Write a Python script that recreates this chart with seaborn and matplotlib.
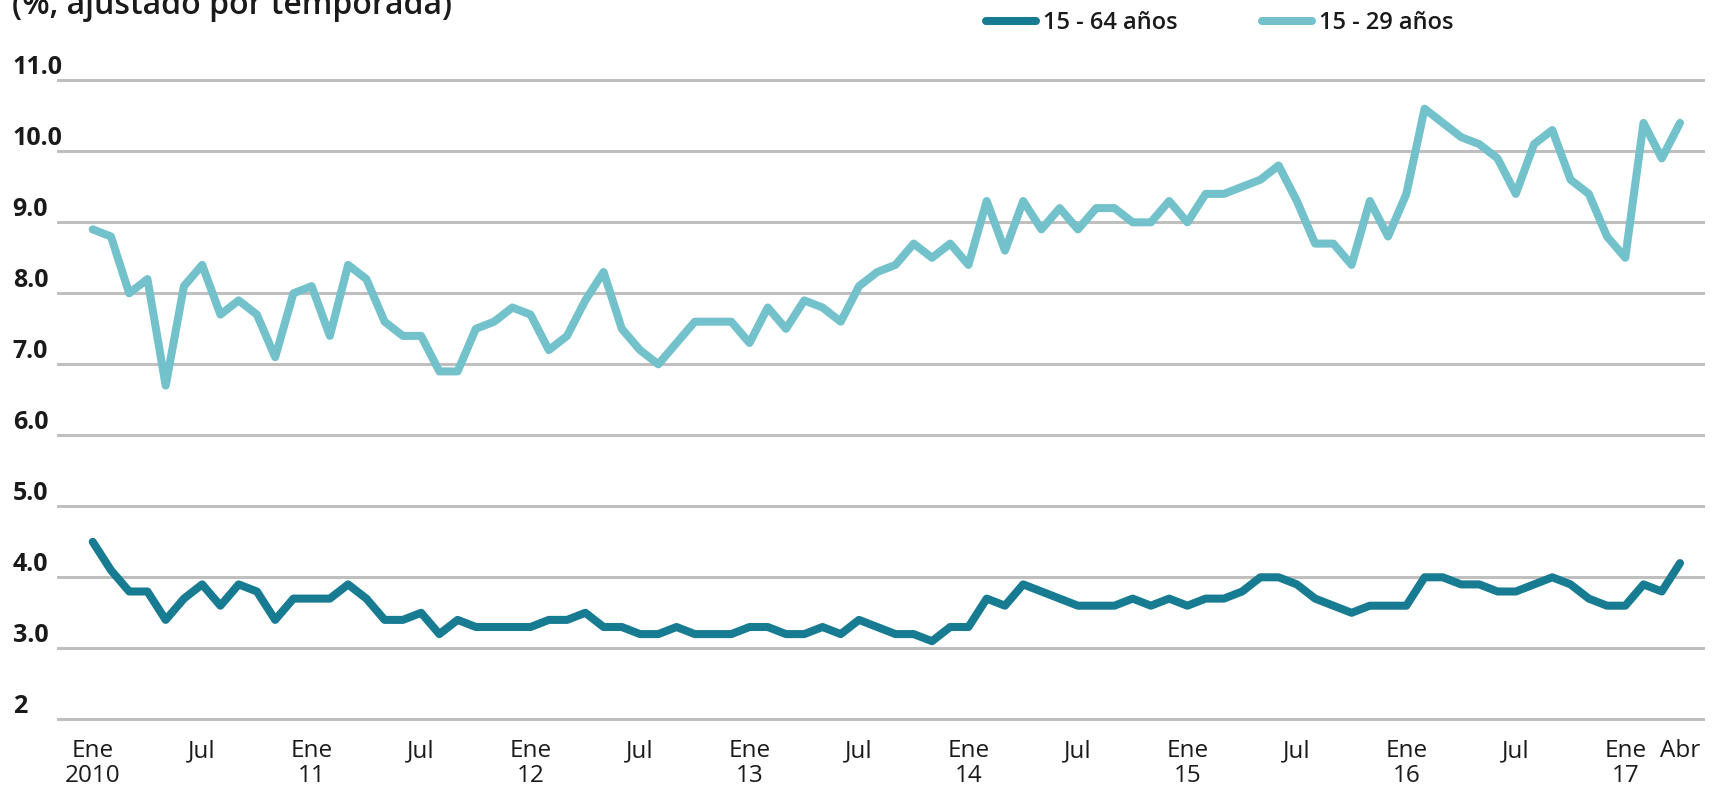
import numpy as np
import pandas as pd
import matplotlib.pyplot as plt
import seaborn as sns
from matplotlib.lines import Line2D
from matplotlib.transforms import ScaledTranslation

# tasa de desempleo mensual, Ene 2010 - Abr 2017
rate_15_64 = [4.5, 4.1, 3.8, 3.8, 3.4, 3.7, 3.9, 3.6, 3.9, 3.8, 3.4, 3.7,
              3.7, 3.7, 3.9, 3.7, 3.4, 3.4, 3.5, 3.2, 3.4, 3.3, 3.3, 3.3,
              3.3, 3.4, 3.4, 3.5, 3.3, 3.3, 3.2, 3.2, 3.3, 3.2, 3.2, 3.2,
              3.3, 3.3, 3.2, 3.2, 3.3, 3.2, 3.4, 3.3, 3.2, 3.2, 3.1, 3.3,
              3.3, 3.7, 3.6, 3.9, 3.8, 3.7, 3.6, 3.6, 3.6, 3.7, 3.6, 3.7,
              3.6, 3.7, 3.7, 3.8, 4.0, 4.0, 3.9, 3.7, 3.6, 3.5, 3.6, 3.6,
              3.6, 4.0, 4.0, 3.9, 3.9, 3.8, 3.8, 3.9, 4.0, 3.9, 3.7, 3.6,
              3.6, 3.9, 3.8, 4.2]
rate_15_29 = [8.9, 8.8, 8.0, 8.2, 6.7, 8.1, 8.4, 7.7, 7.9, 7.7, 7.1, 8.0,
              8.1, 7.4, 8.4, 8.2, 7.6, 7.4, 7.4, 6.9, 6.9, 7.5, 7.6, 7.8,
              7.7, 7.2, 7.4, 7.9, 8.3, 7.5, 7.2, 7.0, 7.3, 7.6, 7.6, 7.6,
              7.3, 7.8, 7.5, 7.9, 7.8, 7.6, 8.1, 8.3, 8.4, 8.7, 8.5, 8.7,
              8.4, 9.3, 8.6, 9.3, 8.9, 9.2, 8.9, 9.2, 9.2, 9.0, 9.0, 9.3,
              9.0, 9.4, 9.4, 9.5, 9.6, 9.8, 9.3, 8.7, 8.7, 8.4, 9.3, 8.8,
              9.4, 10.6, 10.4, 10.2, 10.1, 9.9, 9.4, 10.1, 10.3, 9.6, 9.4, 8.8,
              8.5, 10.4, 9.9, 10.4]
series_names = ["15 - 64 años", "15 - 29 años"]

xtick_pos = [0, 6, 12, 18, 24, 30, 36, 42, 48, 54, 60, 66, 72, 78, 84, 87]
xtick_labels = ["Ene\n2010", "Jul", "Ene\n11", "Jul", "Ene\n12", "Jul", "Ene\n13", "Jul",
                "Ene\n14", "Jul", "Ene\n15", "Jul", "Ene\n16", "Jul", "Ene\n17", "Abr"]
ytick_vals = [2, 3, 4, 5, 6, 7, 8, 9, 10, 11]
ytick_labels = ["2", "3.0", "4.0", "5.0", "6.0", "7.0", "8.0", "9.0", "10.0", "11.0"]

dark = "#177b91"
light = "#73c2cb"
ink = "#1a1a1a"

sns.set_theme(style="white")
plt.rcParams['font.family'] = ['Open Sans', 'DejaVu Sans']

df = pd.DataFrame({"mes": np.arange(len(rate_15_64)),
                   series_names[0]: rate_15_64,
                   series_names[1]: rate_15_29})
long = df.melt(id_vars="mes", var_name="grupo", value_name="tasa")

fig = plt.figure(figsize=(17.12, 7.92), dpi=100)
ax = fig.add_axes([57 / 1712, (792 - 726.4) / 792, 1648 / 1712, 653.2 / 792])

sns.lineplot(data=long, x="mes", y="tasa", hue="grupo", hue_order=series_names,
             palette=[dark, light], linewidth=5.8, ax=ax, legend=False)
for line in ax.lines:
    line.set_solid_capstyle("round")
    line.set_solid_joinstyle("round")

ax.set_xlim(-1.957, 88.37)
ax.set_ylim(1.9, 11.1)
for s in ax.spines.values():
    s.set_visible(False)
ax.set_xlabel("")
ax.set_ylabel("")

ax.set_yticks(ytick_vals)
ax.set_yticklabels(ytick_labels, fontsize=18, fontweight="bold", color=ink,
                   ha="left", va="baseline")
ax.yaxis.grid(True, color="#bfbfbf", linewidth=2.2)
ax.xaxis.grid(False)
ax.tick_params(axis="y", length=0, pad=31.9)
up = ScaledTranslation(0, 6 / 100, fig.dpi_scale_trans)
for lab in ax.get_yticklabels():
    lab.set_transform(lab.get_transform() + up)

ax.set_xticks(xtick_pos)
ax.set_xticklabels(xtick_labels, fontsize=17.5, color=ink, linespacing=1.05)
ax.tick_params(axis="x", length=0, pad=9)

fig.text(12 / 1712, (792 - 13.5) / 792, "(%, ajustado por temporada)",
         fontsize=23, fontweight="semibold", color=ink, ha="left", va="baseline")

handles = [Line2D([], [], color=c, linewidth=5.8, solid_capstyle="round")
           for c in (dark, light)]
fig.legend(handles, series_names, loc="center left",
           bbox_to_anchor=(986 / 1712, 1 - 23 / 792), ncol=2, frameon=False,
           handlelength=2.1, handletextpad=0.3, columnspacing=3.6,
           borderpad=0, borderaxespad=0,
           prop={"size": 17, "weight": "semibold"}, labelcolor=ink)

fig.savefig("out.png", dpi=100)
